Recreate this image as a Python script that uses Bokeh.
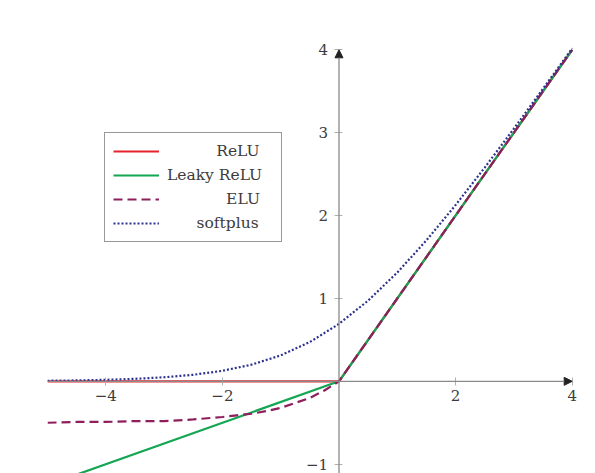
from bokeh.plotting import figure
from bokeh.models import (Range1d, LinearAxis, FixedTicker, Arrow, NormalHead,
                          Legend, LegendItem)
from bokeh.embed import file_html
from bokeh.resources import INLINE

# ---- data ----
relu_x = [-5, 0, 4]
relu_y = [0, 0, 4]

leaky_x = [-5, 0, 4]
leaky_y = [-1.25, 0, 4]

elu_x = [-5, -4.5, -4, -3.5, -3, -2.5, -2, -1.75, -1.5, -1.25, -1, -0.75, -0.5, -0.25, 0, 4]
elu_y = [-0.50, -0.49, -0.49, -0.48, -0.48, -0.46, -0.43, -0.41, -0.39, -0.36, -0.32, -0.26, -0.20, -0.11, 0, 4]

softplus_x = [-5, -4.5, -4, -3.5, -3, -2.5, -2, -1.5, -1, -0.5, 0, 0.5, 1, 1.5, 2, 2.5, 3, 3.5, 4]
softplus_y = [0.007, 0.011, 0.018, 0.030, 0.049, 0.079, 0.127, 0.201, 0.313, 0.474, 0.693, 0.974, 1.313, 1.701, 2.127, 2.579, 3.049, 3.530, 4.018]

x_ticks = [-4, -2, 2, 4]
x_tick_labels = ["\u22124", "\u22122", "2", "4"]
y_ticks = [-1, 1, 2, 3, 4]
y_tick_labels = ["\u22121", "1", "2", "3", "4"]

# axis extents (the axes end in arrows at XMAX / YMAX)
XMIN, XMAX = -5, 4
YMIN, YMAX = -1.112, 4

series_labels = ["ReLU", "Leaky ReLU", "ELU", "softplus"]
# no-break spaces so the labels appear right-aligned as in the reference
label_pad = [10, 0, 12, 6]

FONT = "DejaVu Serif"
AXIS_COLOR = "#8a8a8a"
TEXT_COLOR = "#3c3c3c"

p = figure(width=595, height=473, output_backend="svg", toolbar_location=None,
           x_range=Range1d(XMIN, XMAX + 0.4), y_range=Range1d(YMIN, YMAX + 0.45),
           x_axis_location=None, y_axis_location=None,
           min_border_left=47, min_border_right=0, min_border_top=12, min_border_bottom=0)
p.outline_line_color = None
p.xgrid.visible = False
p.ygrid.visible = False
p.background_fill_color = "white"
p.border_fill_color = "white"

# axes through the origin
xaxis = LinearAxis(fixed_location=0, ticker=FixedTicker(ticks=x_ticks),
                   major_label_overrides={t: l for t, l in zip(x_ticks, x_tick_labels)})
yaxis = LinearAxis(fixed_location=0, ticker=FixedTicker(ticks=y_ticks),
                   major_label_overrides={t: l for t, l in zip(y_ticks, y_tick_labels)})
for ax in (xaxis, yaxis):
    ax.axis_line_color = None
    ax.major_tick_line_color = "#b0b0b0"
    ax.major_tick_line_width = 1
    ax.major_tick_in = 4
    ax.major_tick_out = 4
    ax.minor_tick_line_color = None
    ax.major_label_text_font = FONT
    ax.major_label_text_font_size = "15px"
    ax.major_label_text_color = TEXT_COLOR
xaxis.major_label_standoff = 5
yaxis.major_label_standoff = 7
p.add_layout(xaxis, "below")
p.add_layout(yaxis, "left")

# axis lines with arrow heads
p.add_layout(Arrow(x_start=XMIN, y_start=0, x_end=XMAX, y_end=0,
                   line_color=AXIS_COLOR, line_width=1.3,
                   end=NormalHead(size=8, fill_color="#222222", line_color="#222222", line_width=1)))
p.add_layout(Arrow(x_start=0, y_start=YMIN, x_end=0, y_end=YMAX,
                   line_color=AXIS_COLOR, line_width=1.3,
                   end=NormalHead(size=8, fill_color="#222222", line_color="#222222", line_width=1)))

# curves
r1 = p.line(relu_x, relu_y, line_color="#e6232b", line_width=2.2)
r2 = p.line(leaky_x, leaky_y, line_color="#14a653", line_width=2.2)
r3 = p.line(elu_x, elu_y, line_color="#8e1e5c", line_width=2.2, line_dash="9 5")
r4 = p.line(softplus_x, softplus_y, line_color="#2d3390", line_width=2.2, line_dash="2 2")

legend = Legend(items=[LegendItem(label="\u00a0" * n + l, renderers=[r]) for l, n, r in
                       zip(series_labels, label_pad, [r1, r2, r3, r4])],
                location=(57, 231))
legend.border_line_color = "#333333"
legend.border_line_width = 1
legend.background_fill_color = "white"
legend.background_fill_alpha = 1
legend.padding = 8
legend.spacing = 4
legend.margin = 0
legend.glyph_width = 46
legend.glyph_height = 20
legend.label_height = 20
legend.label_standoff = 8
legend.label_width = 106
legend.label_text_font = FONT
legend.label_text_font_size = "15.5px"
legend.label_text_color = TEXT_COLOR
p.add_layout(legend, "center")

open("out.html", "w").write(file_html(p, INLINE))
